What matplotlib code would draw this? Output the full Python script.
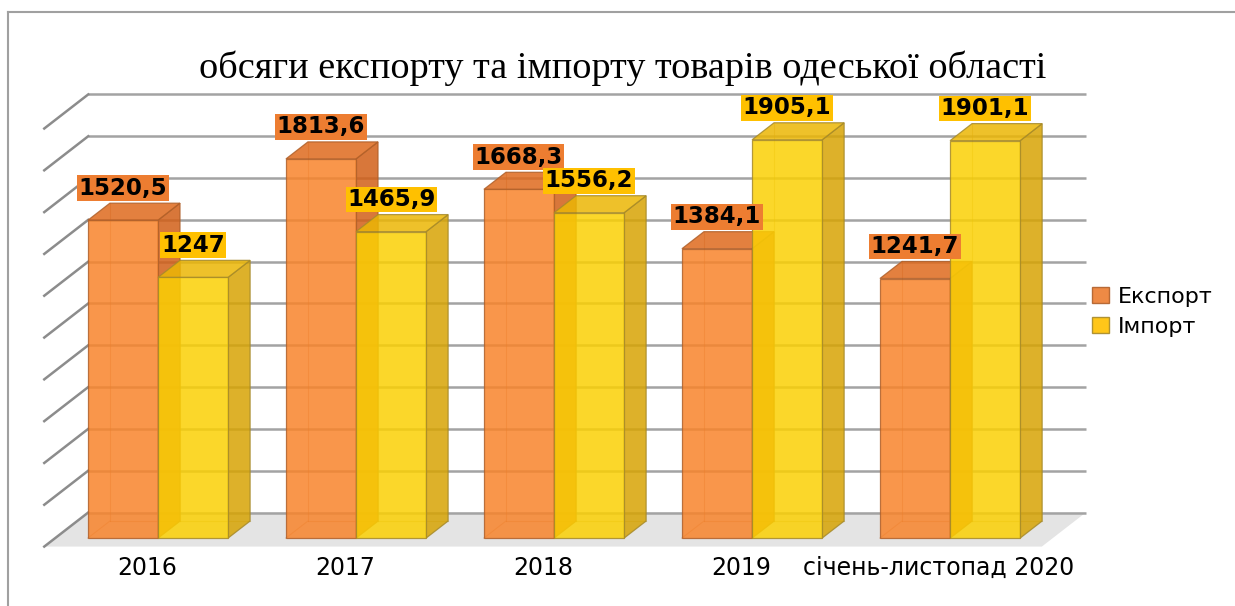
import matplotlib.pyplot as plt
from matplotlib.patches import Polygon, Patch
from matplotlib.lines import Line2D

categories = ["2016", "2017", "2018", "2019", "січень-листопад 2020"]
export_vals = [1520.5, 1813.6, 1668.3, 1384.1, 1241.7]
import_vals = [1247, 1465.9, 1556.2, 1905.1, 1901.1]
series_names = ["Експорт", "Імпорт"]
y_ticks = [0, 200, 400, 600, 800, 1000, 1200, 1400, 1600, 1800, 2000]
title = "обсяги експорту та імпорту товарів одеської області"

# fake 3d geometry (category units / value units)
W = 0.354          # bar width
DX, DY = 0.222, 163  # full depth vector of the floor
D_FRONT, D_BACK = 0.25, 0.75
PAD = 0.165

# colours: (front, side, top, edge, label box)
colors = [
    ("#F8842B", "#D25F17", "#DE6A1D", "#B0602A", "#ED7D31"),
    ("#FBD004", "#D7A404", "#ECB605", "#A68A2A", "#FFC000"),
]


def proj(x, y, d):
    return (x + (d - D_FRONT) * DX, y + (d - D_FRONT) * DY)


def fmt(v):
    return f"{v:g}".replace(".", ",")


fig = plt.figure(figsize=(12.35, 6.06), dpi=100)
ax = fig.add_axes([0, 0, 1, 1])
ax.set_xlim(-0.798, 5.439)
ax.set_ylim(-325, 2574)
ax.axis("off")

n = len(categories)
xl = -W - PAD
xr = (n - 1) + W + PAD

# floor
floor = [proj(xl, 0, 0), proj(xr, 0, 0), proj(xr, 0, 1), proj(xl, 0, 1)]
ax.add_patch(Polygon(floor, closed=True, facecolor="#e4e4e4", edgecolor="none", zorder=0.5))

# gridlines on back wall and side wall
for t in y_ticks:
    a, b = proj(xl, t, 1), proj(xr, t, 1)
    ax.plot([a[0], b[0]], [a[1], b[1]], color="#a3a3a3", lw=1.8, zorder=1, solid_capstyle="butt")
    a, b = proj(xl, t, 0), proj(xl, t, 1)
    ax.plot([a[0], b[0]], [a[1], b[1]], color="#8c8c8c", lw=1.8, zorder=1)


def draw_bar(x0, x1, v, col):
    front_c, side_c, top_c, edge_c, _ = col
    # hidden back edges, visible through the translucent faces
    p = proj(x0, 0, D_BACK)
    for q in (proj(x0, v, D_BACK), proj(x1, 0, D_BACK), proj(x0, 0, D_FRONT)):
        ax.plot([p[0], q[0]], [p[1], q[1]], color=edge_c, lw=0.8, alpha=0.4, zorder=2)
    front = [proj(x0, 0, D_FRONT), proj(x1, 0, D_FRONT), proj(x1, v, D_FRONT), proj(x0, v, D_FRONT)]
    side = [proj(x1, 0, D_FRONT), proj(x1, 0, D_BACK), proj(x1, v, D_BACK), proj(x1, v, D_FRONT)]
    top = [proj(x0, v, D_FRONT), proj(x1, v, D_FRONT), proj(x1, v, D_BACK), proj(x0, v, D_BACK)]
    for poly, fc in ((side, side_c), (top, top_c), (front, front_c)):
        ax.add_patch(Polygon(poly, closed=True, facecolor=fc, edgecolor=edge_c,
                             lw=0.9, alpha=0.85, zorder=3))


for i in range(n):
    for s, vals in enumerate((export_vals, import_vals)):
        x0 = i - W + s * W
        draw_bar(x0, x0 + W, vals[i], colors[s])

# data labels
for i in range(n):
    for s, vals in enumerate((export_vals, import_vals)):
        v = vals[i]
        x0 = i - W + s * W
        ax.text(x0 + W / 2, v + (D_BACK - D_FRONT) * DY + 17, fmt(v),
                ha="center", va="bottom", fontsize=16.5, fontweight="bold",
                family="DejaVu Sans", color="black", zorder=5,
                bbox=dict(boxstyle="square,pad=0.06", facecolor=colors[s][4], edgecolor="none"))

# category labels
for i, c in enumerate(categories):
    x, y = proj(i, 0, 0)
    ax.text(x, y - 102, c, ha="center", va="center", fontsize=17, family="DejaVu Sans", color="black")

fig.text(0.504, 0.888, title, ha="center", va="center", fontsize=27.5,
         family="Liberation Serif", color="black")

handles = [Patch(facecolor=colors[s][4], edgecolor=colors[s][3], lw=1, alpha=0.9) for s in range(2)]
fig.legend(handles, series_names, loc="center left", bbox_to_anchor=(1083 / 1235, 1 - 312 / 606),
           frameon=False, fontsize=16, handlelength=0.75, handleheight=0.75,
           handletextpad=0.4, labelspacing=0.45, borderaxespad=0)

# outer frame (top and left only visible)
fig.add_artist(Line2D([8 / 1235, 1], [1 - 11.5 / 606, 1 - 11.5 / 606], color="#a0a0a0", lw=1.5))
fig.add_artist(Line2D([8 / 1235, 8 / 1235], [0, 1 - 11.5 / 606], color="#a0a0a0", lw=1.5))

fig.savefig("out.png", dpi=100, facecolor="white")
